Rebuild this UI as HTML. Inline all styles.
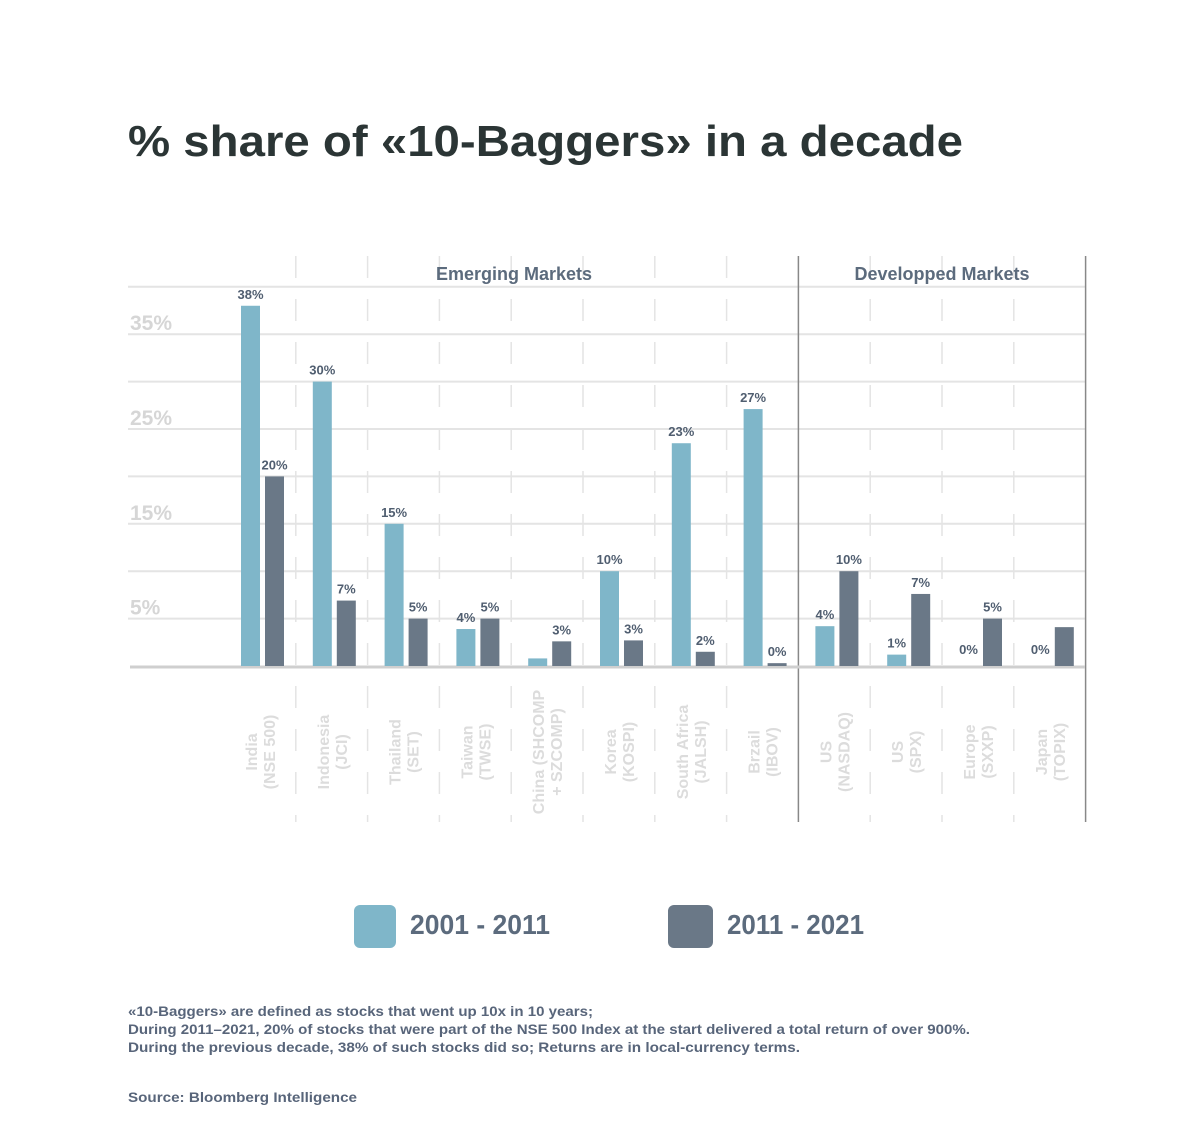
<!DOCTYPE html>
<html><head><meta charset="utf-8">
<style>
html,body{margin:0;padding:0;background:#fff;}
svg{display:block;font-family:"Liberation Sans",sans-serif;}
</style></head>
<body>
<svg id="chart" width="1200" height="1140" viewBox="0 0 1200 1140" xmlns="http://www.w3.org/2000/svg">
<text x="128" y="156" font-size="44" font-weight="bold" fill="#2b3535" textLength="835" lengthAdjust="spacingAndGlyphs">% share of «10-Baggers» in a decade</text>
<g id="grid"></g>
<g id="bars"></g>
<g id="xlabels"></g>
<text x="514" y="280" font-size="18" font-weight="bold" fill="#5c6b7d" text-anchor="middle">Emerging Markets</text>
<text x="942" y="280" font-size="18" font-weight="bold" fill="#5c6b7d" text-anchor="middle">Developped Markets</text>
<g>
<rect x="354" y="905" width="42" height="43" rx="6" fill="#7fb6c9"/>
<text x="410" y="934" font-size="28" font-weight="bold" fill="#5c6b7d" textLength="140" lengthAdjust="spacingAndGlyphs">2001 - 2011</text>
<rect x="668" y="905" width="45" height="43" rx="6" fill="#6a7887"/>
<text x="727" y="934" font-size="28" font-weight="bold" fill="#5c6b7d" textLength="137" lengthAdjust="spacingAndGlyphs">2011 - 2021</text>
</g>
<g font-size="14" font-weight="bold" fill="#58657a">
<text x="128" y="1016" textLength="465" lengthAdjust="spacingAndGlyphs">«10-Baggers» are defined as stocks that went up 10x in 10 years;</text>
<text x="128" y="1034" textLength="842" lengthAdjust="spacingAndGlyphs">During 2011–2021, 20% of stocks that were part of the NSE 500 Index at the start delivered a total return of over 900%.</text>
<text x="128" y="1052" textLength="672" lengthAdjust="spacingAndGlyphs">During the previous decade, 38% of such stocks did so; Returns are in local-currency terms.</text>
<text x="128" y="1102" textLength="229" lengthAdjust="spacingAndGlyphs">Source: Bloomberg Intelligence</text>
</g>
</svg>
<script>
const categories = ["India|(NSE 500)","Indonesia|(JCI)","Thailand|(SET)","Taiwan|(TWSE)","China (SHCOMP|+ SZCOMP)","Korea|(KOSPI)","South Africa|(JALSH)","Brzail|(IBOV)","US|(NASDAQ)","US|(SPX)","Europe|(SXXP)","Japan|(TOPIX)"];
const series2001 = [38, 30, 15, 3.9, 0.8, 10, 23.5, 27.1, 4.2, 1.2, 0, 0];
const series2011 = [20, 6.9, 5, 5, 2.6, 2.7, 1.5, 0.3, 10, 7.6, 5, 4.1];
const labels2001 = ["38%","30%","15%","4%","","10%","23%","27%","4%","1%","0%","0%"];
const labels2011 = ["20%","7%","5%","5%","3%","3%","2%","0%","10%","7%","5%",""];
const yTicks = [5, 15, 25, 35];
const gridValues = [5,10,15,20,25,30,35,40];

const NS = "http://www.w3.org/2000/svg";
const Y0 = 666, PX = 9.48, X0 = 224, GW = 71.8;
function y(v){ return Y0 - v*PX; }
function gx(i){ return X0 + i*GW; }
function mk(tag, attrs, parent){ const e=document.createElementNS(NS,tag); for(const k in attrs) e.setAttribute(k,attrs[k]); parent.appendChild(e); return e; }

const grid = document.getElementById('grid');
gridValues.forEach(v=>{
  const l = mk('line',{x1:128,x2:1085,y1:y(v),y2:y(v),stroke:'#e4e4e4','stroke-width':2},grid);
  
  
});
yTicks.forEach(v=>{
  const t = mk('text',{x:130,y:y(v)-4,'font-size':21,'font-weight':'bold',fill:'#d6d6d6'},grid);
  t.textContent = v+'%';
  
  
});
for(let i=1;i<=12;i++){
  const x = gx(i);
  if(i===8 || i===12){
    const l = mk('line',{x1:x,x2:x,y1:256,y2:822,stroke:'#888','stroke-width':1.5},grid);
    
    
  } else {
    const l = mk('line',{x1:x,x2:x,y1:256,y2:822,stroke:'#e4e4e4','stroke-width':1.5,'stroke-dasharray':'22 21'},grid);
    
    
  }
}
const base = mk('line',{x1:130,x2:1085,y1:Y0+1,y2:Y0+1,stroke:'#cfcfcf','stroke-width':3},grid);



const bars = document.getElementById('bars');
categories.forEach((c,i)=>{
  const x1 = gx(i)+17, x2 = gx(i)+41, w=19;
  const h1 = series2001[i]*PX, h2 = series2011[i]*PX;
  const b1 = mk('rect',{x:x1,y:Y0-h1,width:w,height:h1,fill:'#7fb6c9'},bars);
  
  
  const b2 = mk('rect',{x:x2,y:Y0-Math.max(h2,2),width:w,height:Math.max(h2,2),fill:'#6a7887'},bars);
  
  
  if(labels2001[i]){
    const t = mk('text',{x:x1+w/2,y:y(series2001[i])-7-(series2001[i]===0?5:0),'font-size':13,'font-weight':'bold',fill:'#505e70','text-anchor':'middle'},bars);
    t.textContent = labels2001[i];
    
    
  }
  if(labels2011[i]){
    const t = mk('text',{x:x2+w/2,y:y(series2011[i])-7,'font-size':13,'font-weight':'bold',fill:'#505e70','text-anchor':'middle'},bars);
    t.textContent = labels2011[i];
    
    
  }
});

const xl = document.getElementById('xlabels');
categories.forEach((c,i)=>{
  const parts = c.split('|');
  const cx = gx(i)+36, cy = 752;
  const g = mk('g',{transform:`translate(${cx},${cy}) rotate(-90)`},xl);
  
  
  parts.forEach((p,j)=>{
    const t = mk('text',{x:0,y:(j===0?-3:15),'font-size':16,'font-weight':'bold',fill:'#dcdcdc','text-anchor':'middle'},g);
    t.textContent = p;
    
    
  });
});
</script>
</body></html>
